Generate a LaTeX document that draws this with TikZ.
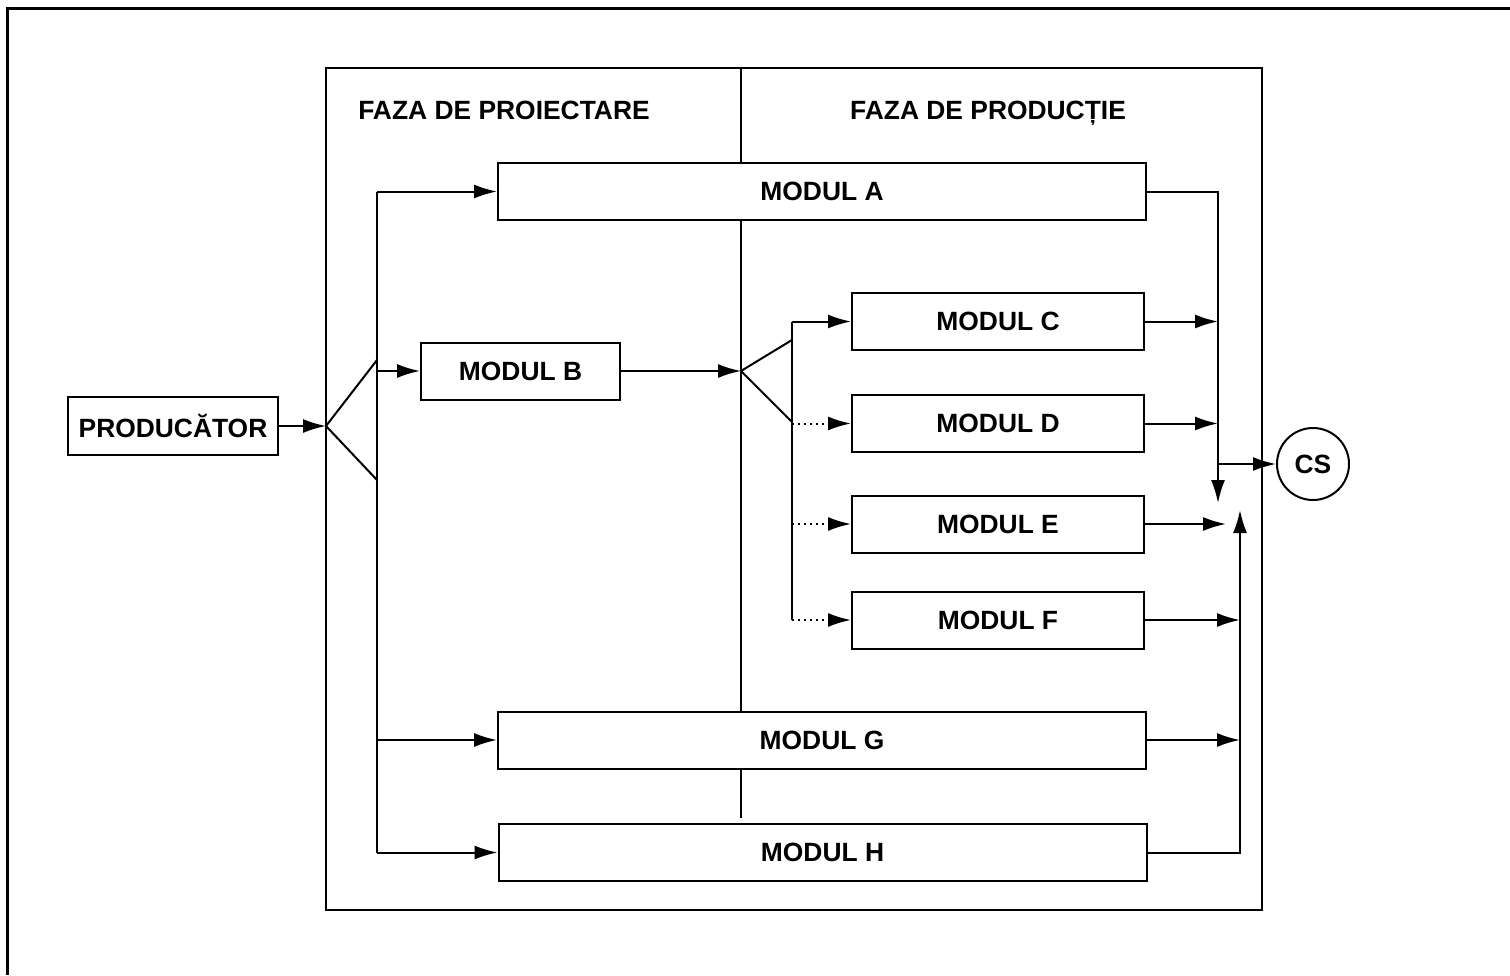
\documentclass[tikz,border=0pt]{standalone}
\usepackage{fontspec}
\setmainfont{Liberation Sans}
\usetikzlibrary{arrows.meta,positioning}

\tikzset{
  modul/.style={draw,line width=1pt,fill=white,inner sep=0pt,minimum height=28.5pt,
    font={\fontsize{13.2}{15}\selectfont\bfseries}},
  modullat/.style={modul,minimum width=324pt},
  modulmic/.style={modul,minimum width=146pt},
  titlu/.style={inner sep=0pt,font={\fontsize{13.2}{15}\selectfont\bfseries}},
  punctat/.style={dash pattern=on 1pt off 2pt},
}

\begin{document}
\begin{tikzpicture}[x=0.5pt,y=-0.5pt,line width=1pt,>={Latex[length=11.5pt,width=7pt]}]
\useasboundingbox (0,0) rectangle (1510,975);

% cadrul exterior (doar sus si stanga)
\draw[line width=1.5pt] (7,975) -- (7,8) -- (1510,8);

% cadrul celor doua faze
\draw (326,68) rectangle (1262,910);
\draw (741,68) -- (741,818);

\node[titlu,anchor=base] (proi) at (504,119) {FAZA DE PROIECTARE};
\node[titlu,anchor=base] (prod) at (988,119) {FAZA DE PRODUCȚIE};

\node[modul,minimum width=105pt,minimum height=29pt] (P) at (173,426) {PRODUCĂTOR};

\node[modullat] (A) at (822,191.5) {MODUL A};
\node[modul,minimum width=99.5pt] (B) at (520.5,371) {MODUL B};
\node[modulmic] (C) at (998,321.5) {MODUL C};
\node[modulmic] (D) at (998,423.5) {MODUL D};
\node[modulmic] (E) at (998,524) {MODUL E};
\node[modulmic] (F) at (998,620) {MODUL F};
\node[modullat] (G) at (822,740) {MODUL G};
\node[modullat] (H) at (822.5,852.5) {MODUL H};

\node[draw,circle,inner sep=0pt,minimum size=36pt,titlu] (CS) at (1313,464) {CS};

% ramificatia de la producator
\coordinate (s1) at (326,426);
\coordinate (s1a) at (377,360);
\coordinate (s1b) at (377,480);
\draw[->] (P) -- (s1);
\draw (s1a) -- (s1) -- (s1b);
\draw (s1a |- A.west) -- (s1a |- H.west);
\draw[->] (s1a |- A.west) -- (A.west);
\draw[->] (s1a |- B.west) -- (B.west);
\draw[->] (s1a |- G.west) -- (G.west);
\draw[->] (s1a |- H.west) -- (H.west);

% ramificatia de la modulul B
\coordinate (s2) at (741,371);
\coordinate (s2a) at (792,340);
\coordinate (s2b) at (792,422);
\draw[->] (B) -- (s2);
\draw (s2a) -- (s2) -- (s2b);
\draw (s2a |- C.west) -- (s2a |- F.west);
\draw[->] (s2a |- C.west) -- (C.west);
\draw[->,punctat] (s2a |- D.west) -- (D.west);
\draw[->,punctat] (s2a |- E.west) -- (E.west);
\draw[->,punctat] (s2a |- F.west) -- (F.west);

% iesirile spre CS
\coordinate (r1) at (1218,503);
\coordinate (r2) at (1240,510);
\coordinate (eend) at (1226,522);
\draw[->] (A.east) -| (r1);
\draw[->] (C.east) -- (C.east -| r1);
\draw[->] (D.east) -- (D.east -| r1);
\draw[->] (r1 |- CS.west) -- (CS.west);
\draw[->] (E.east) -- (E.east -| eend);
\draw[->] (H.east) -| (r2);
\draw[->] (F.east) -- (F.east -| r2);
\draw[->] (G.east) -- (G.east -| r2);
\end{tikzpicture}
\end{document}
